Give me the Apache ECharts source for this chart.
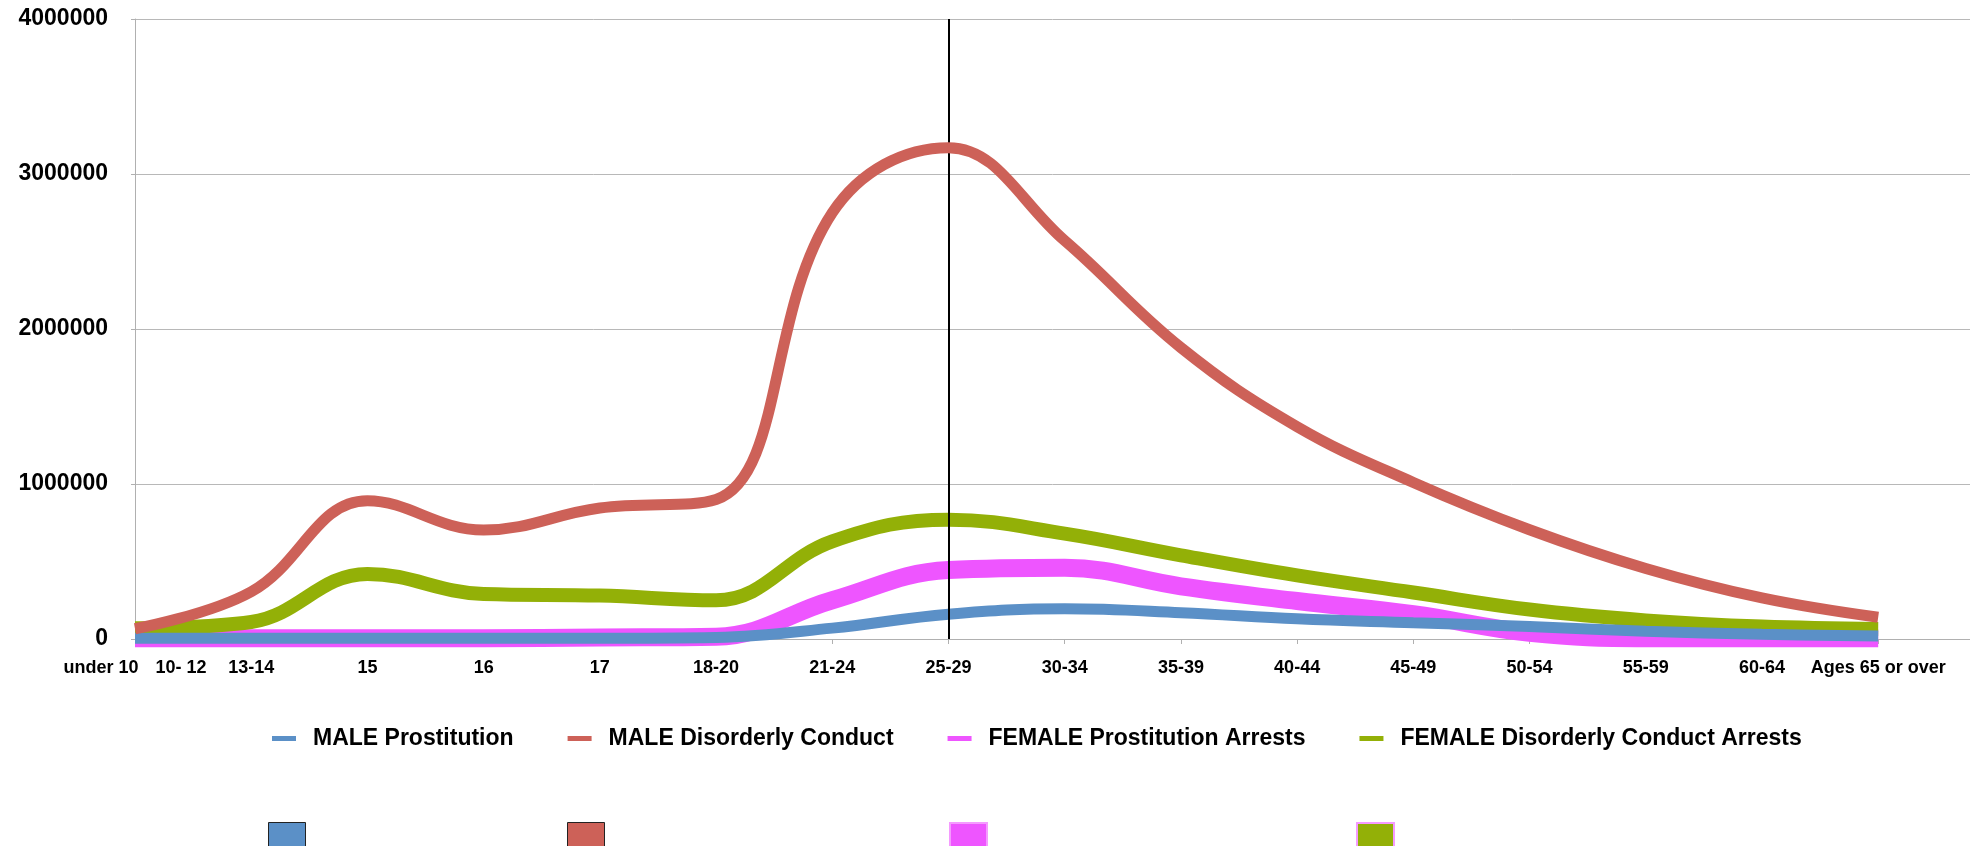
<!DOCTYPE html>
<html>
<head>
<meta charset="utf-8">
<script src="https://cdn.jsdelivr.net/npm/echarts@6/dist/echarts.min.js"></script>
<style>
  html, body { margin: 0; padding: 0; background: #fff; }
  #chart { width: 1970px; height: 846px; }
</style>
</head>
<body>
<div id="chart"></div>
<script>
// Categories (age groups) along the x axis
const categories = ['under 10', '10- 12', '13-14', '15', '16', '17', '18-20', '21-24', '25-29',
  '30-34', '35-39', '40-44', '45-49', '50-54', '55-59', '60-64', 'Ages 65 or over'];

// Series values (the "under 10" point is not visible in the picture)
const maleProstitution = [null, 5000, 5000, 5000, 5000, 5000, 10000, 70000, 160000,
  195000, 170000, 130000, 105000, 80000, 50000, 30000, 20000];
const maleDisorderly = [null, 66000, 305000, 892000, 703000, 845000, 900000, 2750000, 3170000,
  2570000, 1880000, 1370000, 1010000, 705000, 455000, 265000, 140000];
const femaleProstitution = [null, 5000, 5000, 5000, 5000, 10000, 15000, 250000, 445000,
  460000, 340000, 245000, 160000, 40000, 5000, 5000, 5000];
const femaleDisorderly = [null, 70000, 110000, 420000, 290000, 280000, 250000, 630000, 770000,
  680000, 540000, 410000, 300000, 190000, 120000, 80000, 65000];

const seriesNames = ['MALE Prostitution', 'MALE Disorderly Conduct',
  'FEMALE Prostitution Arrests', 'FEMALE Disorderly Conduct Arrests'];
const yTicks = [0, 1000000, 2000000, 3000000, 4000000];
const markedCategory = '25-29';

const FONT = "'Liberation Sans', Arial, Helvetica, sans-serif";
const colors = ['#5b90c7', '#cd6158', '#ee55ff', '#93b007'];
const SMOOTH = 0.4;

function toPairs(arr) {
  return arr.map((v, i) => [i, v]).filter(p => p[1] !== null);
}
const tickIdx = categories.map((c, i) => i).slice(1);

const chart = echarts.init(document.getElementById('chart'), null, { renderer: 'canvas' });

const legendBoxes = seriesNames.map((name, i) => ({
  data: [name],
  left: [263, 562, 944, 1351][i],
  top: 817,
  icon: 'rect',
  itemWidth: 37,
  itemHeight: 30,
  selectedMode: false,
  formatter: () => '',
  itemStyle: {
    borderColor: i < 2 ? '#222' : '#f59aff',
    borderWidth: i < 2 ? 1 : 2
  }
}));

const option = {
  animation: false,
  backgroundColor: '#fff',
  grid: { left: 135, right: 0, top: 19, bottom: 207, containLabel: false },
  legend: [{
    data: seriesNames,
    left: 267,
    top: 722,
    icon: 'rect',
    itemWidth: 24,
    itemHeight: 5,
    itemGap: 54,
    selectedMode: false,
    textStyle: { fontFamily: FONT, fontSize: 23, fontWeight: 'bold', color: '#000', padding: [0, 0, 0, 12] }
  }].concat(legendBoxes),
  xAxis: {
    type: 'value',
    min: 1,
    max: 16.79,
    splitLine: { show: false },
    axisLine: { show: true, lineStyle: { color: '#b0b0b0', width: 1 } },
    axisTick: { show: true, customValues: tickIdx, length: 5, lineStyle: { color: '#b0b0b0' } },
    axisLabel: {
      customValues: tickIdx,
      margin: 20,
      color: '#000',
      fontFamily: FONT,
      fontSize: 18,
      fontWeight: 'bold',
      formatter: function (v) {
        const i = Math.round(v);
        if (i === 1) {
          return '{n|' + categories[0] + '}{g|}{n|' + categories[1] + '}';
        }
        return categories[i] || '';
      },
      rich: {
        n: { fontFamily: FONT, fontSize: 18, fontWeight: 'bold', color: '#000' },
        g: { width: 17 }
      }
    }
  },
  yAxis: {
    type: 'value',
    min: yTicks[0],
    max: yTicks[yTicks.length - 1],
    interval: yTicks[1] - yTicks[0],
    axisLine: { show: true, lineStyle: { color: '#b0b0b0', width: 1 } },
    axisTick: { show: true, length: 4, lineStyle: { color: '#b0b0b0' } },
    splitLine: { show: true, lineStyle: { color: '#b8b8b8', width: 1 } },
    axisLabel: {
      margin: 27,
      color: '#000',
      fontFamily: FONT,
      fontSize: 23,
      fontWeight: 'bold',
      padding: [5, 0, 0, 0],
      formatter: v => String(v)
    }
  },
  series: [
    {
      name: seriesNames[0], type: 'line', smooth: SMOOTH, showSymbol: false, z: 4, clip: false,
      data: toPairs(maleProstitution),
      itemStyle: { color: colors[0] },
      lineStyle: { color: colors[0], width: 11 }
    },
    {
      name: seriesNames[1], type: 'line', smooth: SMOOTH, showSymbol: false, z: 5, clip: false,
      data: toPairs(maleDisorderly),
      itemStyle: { color: colors[1] },
      lineStyle: { color: colors[1], width: 11 },
      markLine: {
        silent: true,
        symbol: ['none', 'none'],
        label: { show: false },
        lineStyle: { color: '#000', width: 2, type: 'solid' },
        data: [{ xAxis: categories.indexOf(markedCategory) }]
      }
    },
    {
      name: seriesNames[2], type: 'line', smooth: SMOOTH, showSymbol: false, z: 2, clip: false,
      data: toPairs(femaleProstitution),
      itemStyle: { color: colors[2] },
      lineStyle: { color: colors[2], width: 18 }
    },
    {
      name: seriesNames[3], type: 'line', smooth: SMOOTH, showSymbol: false, z: 3, clip: false,
      data: toPairs(femaleDisorderly),
      itemStyle: { color: colors[3] },
      lineStyle: { color: colors[3], width: 14 }
    }
  ]
};
chart.setOption(option);
</script>
</body>
</html>
